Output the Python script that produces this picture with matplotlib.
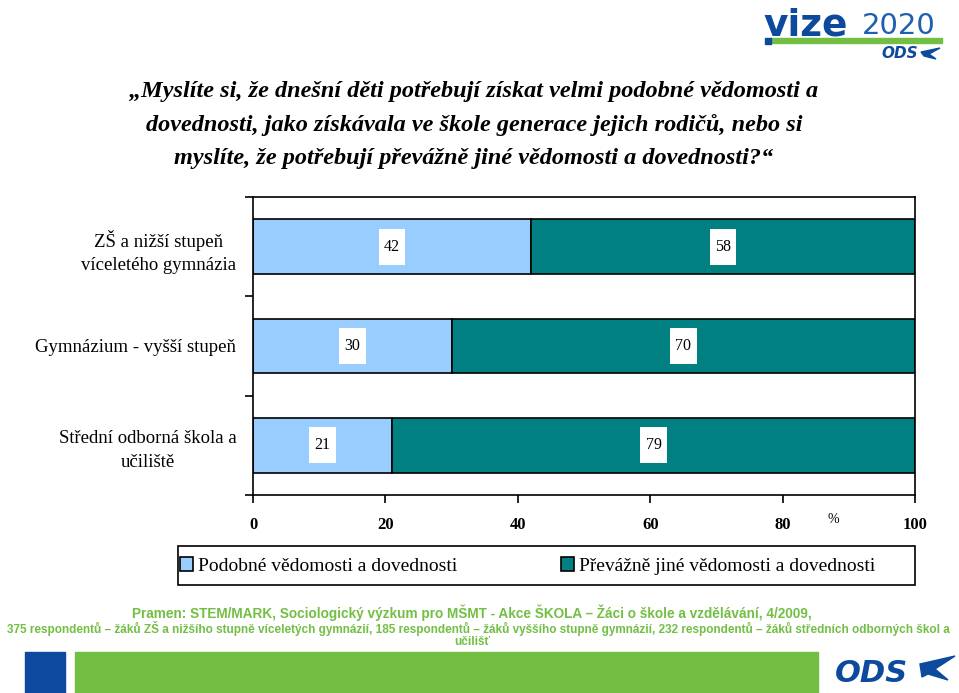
import matplotlib
matplotlib.use("Agg")
import matplotlib.pyplot as plt
from matplotlib.patches import Rectangle, Polygon
import numpy as np

# data
categories = ["ZŠ a nižší stupeň\nvíceletého gymnázia",
              "Gymnázium - vyšší stupeň",
              "Střední odborná škola a\nučiliště"]
podobne = [42, 30, 21]
jine = [58, 70, 79]
series_names = ["Podobné vědomosti a dovednosti",
                "Převážně jiné vědomosti a dovednosti"]
xticks = [0, 20, 40, 60, 80, 100]

title = ("„Myslíte si, že dnešní děti potřebují získat velmi podobné vědomosti a\n"
         "dovednosti, jako získávala ve škole generace jejich rodičů, nebo si\n"
         "myslíte, že potřebují převážně jiné vědomosti a dovednosti?“")
source1 = "Pramen: STEM/MARK, Sociologický výzkum pro MŠMT - Akce ŠKOLA – Žáci o škole a vzdělávání, 4/2009,"
source2 = ("375 respondentů – žáků ZŠ a nižšího stupně víceletých gymnázií, 185 respondentů – žáků vyššího stupně "
           "gymnázií, 232 respondentů – žáků středních odborných škol a")
source3 = "učilišť"

LIGHT = "#99CCFF"
TEAL = "#008080"
BLUE = "#0D4A9E"
GREEN = "#72BF44"
SERIF = ["Liberation Serif", "DejaVu Serif"]
NARROW = ["Liberation Sans Narrow", "Liberation Sans", "DejaVu Sans"]

W, H = 959, 693
fig = plt.figure(figsize=(W / 100, H / 100), dpi=100)

def fx(px):
    return px / W

def fy(py):
    return 1 - py / H

ax = fig.add_axes([fx(253), fy(495), fx(915) - fx(253), fy(197) - fy(495)])
y = np.arange(len(categories))
bh = 0.55
b1 = ax.barh(y, podobne, height=bh, color=LIGHT, edgecolor="black", linewidth=1.2,
             label=series_names[0])
b2 = ax.barh(y, jine, left=podobne, height=bh, color=TEAL, edgecolor="black", linewidth=1.2,
             label=series_names[1])

# white label boxes, a bit taller than wide like the original
box_w, box_h = 4.0, 0.36
for vals, lefts in [(podobne, [0] * 3), (jine, podobne)]:
    for yi, v, l in zip(y, vals, lefts):
        cx = l + v / 2
        ax.add_patch(Rectangle((cx - box_w / 2, yi - box_h / 2), box_w, box_h,
                               facecolor="white", edgecolor="none", zorder=3))
        ax.text(cx, yi, str(v), ha="center", va="center", fontsize=11.5,
                family=SERIF, zorder=4)

ax.set_xlim(0, 100)
ax.set_ylim(len(categories) - 0.5, -0.5)
ax.set_xticks(xticks)
ax.set_xticklabels([str(t) for t in xticks], fontsize=12, fontweight="bold", family=SERIF)
ax.set_yticks(np.arange(-0.5, len(categories), 1.0))
ax.set_yticklabels([])
ax.set_yticks(y, minor=True)
ax.set_yticklabels(categories, minor=True, fontsize=13.5, family=SERIF, ha="right",
                   multialignment="center", linespacing=1.5)
ax.tick_params(axis="y", which="minor", length=0, pad=12)
ax.tick_params(axis="y", which="major", length=6, width=1.2, direction="out")
ax.tick_params(axis="x", length=6, width=1.2, direction="out", pad=10)
for s in ax.spines.values():
    s.set_linewidth(1.2)
ax.text(87.6, -0.06, "%", transform=ax.get_xaxis_transform(), fontsize=10, family=SERIF,
        va="top", ha="center")

# legend with its own frame
fig.patches.append(Rectangle((fx(178), fy(585)), fx(915) - fx(178), fy(546) - fy(585),
                             transform=fig.transFigure, facecolor="white",
                             edgecolor="black", linewidth=1.2))
fig.legend(handles=[b1, b2], loc="center left", bbox_to_anchor=(fx(172), fy(566)),
           ncol=2, frameon=False, handlelength=0.7, handleheight=0.7,
           handletextpad=0.25, columnspacing=5.3, borderaxespad=0,
           prop={"family": SERIF, "size": 14})

fig.text(fx(474), fy(125), title, ha="center", va="center", fontsize=17.5,
         fontweight="bold", style="italic", family=SERIF, linespacing=1.72)

fig.text(fx(472), fy(613), source1, ha="center", va="center", fontsize=9.8,
         fontweight="bold", color=GREEN, family=NARROW)
fig.text(fx(478), fy(629), source2, ha="center", va="center", fontsize=8.5,
         fontweight="bold", color=GREEN, family=NARROW)
fig.text(fx(472), fy(642), source3, ha="center", va="center", fontsize=8.5,
         fontweight="bold", color=GREEN, family=NARROW)

# footer decoration
fig.patches.append(Rectangle((fx(25), 0), fx(65) - fx(25), fy(652), transform=fig.transFigure,
                             color=BLUE))
fig.patches.append(Rectangle((fx(75), 0), fx(818) - fx(75), fy(652), transform=fig.transFigure,
                             color=GREEN))
fig.text(fx(872), fy(673), "ODS", ha="center", va="center", fontsize=22, fontweight="bold",
         style="italic", color=BLUE, family=["DejaVu Sans"])
fig.patches.append(Polygon([(fx(920), fy(664)), (fx(955), fy(656)), (fx(935), fy(669)),
                            (fx(948), fy(680)), (fx(928), fy(674)), (fx(922), fy(677))],
                           closed=True, transform=fig.transFigure, color=BLUE))

# header logo
fig.text(fx(763), fy(26), "vize", ha="left", va="center", fontsize=27, fontweight="bold",
         color=BLUE, family=["DejaVu Sans"])
fig.text(fx(862), fy(26), "2020", ha="left", va="center", fontsize=21,
         color="#1F5FAF", family=["DejaVu Sans"])
fig.patches.append(Rectangle((fx(770), fy(43)), fx(942) - fx(770), fy(38) - fy(43),
                             transform=fig.transFigure, color=GREEN))
fig.patches.append(Rectangle((fx(765), fy(44)), fx(771) - fx(765), fy(38) - fy(44),
                             transform=fig.transFigure, color=BLUE))
fig.text(fx(900), fy(54), "ODS", ha="center", va="center", fontsize=11, fontweight="bold",
         style="italic", color=BLUE, family=["DejaVu Sans"])
fig.patches.append(Polygon([(fx(921), fy(52)), (fx(940), fy(48)), (fx(929), fy(54)),
                            (fx(936), fy(59)), (fx(924), fy(56))],
                           closed=True, transform=fig.transFigure, color=BLUE))

fig.savefig("out.png", dpi=100, facecolor="white")
